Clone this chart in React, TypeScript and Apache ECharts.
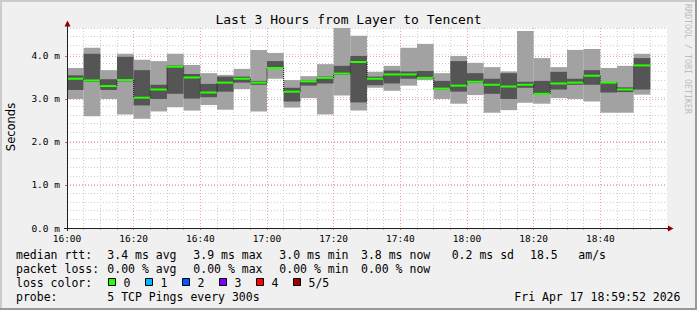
import React, { useEffect, useRef } from "react";
import * as echarts from "echarts";

// 5-minute bins (start times)
const binStarts = [
  "16:00", "16:05", "16:10", "16:15", "16:20", "16:25", "16:30", "16:35", "16:40", "16:45", "16:50", "16:55",
  "17:00", "17:05", "17:10", "17:15", "17:20", "17:25", "17:30", "17:35", "17:40", "17:45", "17:50", "17:55",
  "18:00", "18:05", "18:10", "18:15", "18:20", "18:25", "18:30", "18:35", "18:40", "18:45", "18:50",
];
// sorted pings per bin (ms)
const pingMax = [3.72, 4.19, 3.67, 4.05, 3.91, 3.88, 4.05, 3.79, 3.6, 3.56, 3.7, 4.14, 4.07, 3.44, 3.53, 3.81, 4.65, 4.47, 3.63, 3.77, 4.19, 4.28, 3.6, 4.0, 3.84, 3.74, 3.64, 4.58, 3.95, 3.74, 4.14, 4.16, 3.72, 3.77, 4.05];
const pingQ3 = [3.55, 4.05, 3.46, 3.98, 3.67, 3.33, 3.78, 3.58, 3.35, 3.52, 3.52, 3.42, 3.88, 3.26, 3.43, 3.52, 3.77, 4.0, 3.52, 3.66, 3.64, 3.65, 3.42, 3.88, 3.6, 3.47, 3.6, 3.4, 3.42, 3.63, 3.47, 3.67, 3.39, 3.27, 3.95];
const pingMedian = [3.47, 3.43, 3.3, 3.44, 3.03, 3.22, 3.75, 3.5, 3.15, 3.38, 3.47, 3.38, 3.72, 3.17, 3.41, 3.49, 3.59, 3.86, 3.47, 3.57, 3.57, 3.49, 3.24, 3.31, 3.4, 3.33, 3.29, 3.33, 3.12, 3.36, 3.38, 3.54, 3.38, 3.22, 3.78];
const pingQ1 = [3.21, 3.4, 3.21, 3.41, 2.85, 3.0, 3.12, 3.01, 3.04, 3.17, 3.38, 3.33, 3.7, 2.94, 3.31, 3.36, 3.56, 2.92, 3.32, 3.36, 3.47, 3.47, 3.22, 3.17, 3.37, 3.12, 3.0, 3.26, 3.11, 3.22, 3.33, 3.33, 3.15, 3.16, 3.22];
const pingMin = [3.0, 2.6, 3.0, 2.64, 2.54, 2.71, 2.81, 2.73, 2.86, 2.75, 3.23, 2.71, 3.47, 2.8, 3.02, 2.64, 3.08, 2.73, 3.26, 3.19, 3.31, 3.44, 3.0, 2.89, 3.09, 2.68, 2.74, 2.91, 2.89, 3.02, 3.0, 2.94, 2.68, 2.68, 3.1];

const titleText = "Last 3 Hours from Layer to Tencent";
const legendRows = [
  { y: 254.5, parts: [[16, "median rtt:"], [107.3, "3.4 ms avg"], [193.3, "3.9 ms max"], [279.3, "3.0 ms min"], [361, "3.8 ms now"], [451.7, "0.2 ms sd"], [530, "18.5"], [578.3, "am/s"]] },
  { y: 268.5, parts: [[16, "packet loss:"], [107.3, "0.00 % avg"], [193.3, "0.00 % max"], [279.3, "0.00 % min"], [361, "0.00 % now"]] },
  { y: 282.5, parts: [[16, "loss color:"]] },
  { y: 296.5, parts: [[16, "probe:"], [107.3, "5 TCP Pings every 300s"], [514.3, "Fri Apr 17 18:59:52 2026"]] },
];
const lossLabels = ["0", "1", "2", "3", "4", "5/5"];
const lossColors = ["#26ff00", "#00b8ff", "#0059ff", "#7e00ff", "#ff0000", "#a10000"];

const toMin = (s: string) => {
  const [h, m] = s.split(":").map(Number);
  return (h - 16) * 60 + m;
};
const fmtMin = (v: number) => {
  const h = 16 + Math.floor(v / 60);
  const m = v % 60;
  return `${h}:${m < 10 ? "0" + m : m}`;
};

const MONO = "DejaVu Sans Mono";

export default function App() {
  const ref = useRef<HTMLDivElement>(null);
  useEffect(() => {
    if (!ref.current) return;
    const chart = echarts.init(ref.current, undefined, { renderer: "svg" });
    const data = binStarts.map((s, i) => {
      const st = toMin(s);
      return [st, st + 5, pingMin[i], pingQ1[i], pingMedian[i], pingQ3[i], pingMax[i], i > 0 ? pingMedian[i - 1] : -1];
    });

    const graphics: any[] = [
      // frame shading
      { type: "rect", shape: { x: 0, y: 0, width: 697, height: 2 }, style: { fill: "#cbcbcb" }, z: 100 },
      { type: "rect", shape: { x: 0, y: 0, width: 2, height: 310 }, style: { fill: "#cbcbcb" }, z: 100 },
      { type: "rect", shape: { x: 0, y: 308, width: 697, height: 2 }, style: { fill: "#999999" }, z: 100 },
      { type: "rect", shape: { x: 695, y: 0, width: 2, height: 310 }, style: { fill: "#999999" }, z: 100 },
      // axes lines and arrows
      { type: "line", shape: { x1: 64, y1: 228.5, x2: 669, y2: 228.5 }, style: { stroke: "#1f1f1f", lineWidth: 1 }, z: 50 },
      { type: "line", shape: { x1: 67.5, y1: 231, x2: 67.5, y2: 25 }, style: { stroke: "#1f1f1f", lineWidth: 1 }, z: 50 },
      { type: "polygon", shape: { points: [[673.5, 228.5], [668, 225.5], [668, 231.5]] }, style: { fill: "#8b0000" }, z: 51 },
      { type: "polygon", shape: { points: [[67.5, 20.5], [64.5, 26.5], [70.5, 26.5]] }, style: { fill: "#8b0000" }, z: 51 },
      // title
      {
        type: "text", x: 348.5, y: 19.5, z: 60,
        style: { text: titleText, font: `13px ${MONO}`, fill: "#000", align: "center", verticalAlign: "middle" },
      },
      // y-axis name
      {
        type: "text", x: 10.5, y: 127, rotation: Math.PI / 2, z: 60,
        style: { text: "Seconds", font: "11.5px DejaVu Sans", fill: "#000", align: "center", verticalAlign: "middle" },
      },
      // watermark
      {
        type: "text", x: 687.5, y: 59, rotation: -Math.PI / 2, z: 60,
        style: { text: "RRDTOOL / TOBI OETIKER", font: `8.3px ${MONO}`, fill: "#bdbdbd", align: "center", verticalAlign: "middle" },
      },
    ];
    legendRows.forEach((row) => {
      row.parts.forEach(([x, t]) => {
        graphics.push({
          type: "text", x: x as number, y: row.y, z: 60,
          style: { text: t as string, font: `11.5px ${MONO}`, fill: "#000", align: "left", verticalAlign: "middle" },
        });
      });
    });
    lossLabels.forEach((lab, i) => {
      const bx = 108.5 + i * 37;
      graphics.push({
        type: "rect", shape: { x: bx, y: 278.5, width: 7, height: 7 }, z: 60,
        style: { fill: lossColors[i], stroke: "#000", lineWidth: 1 },
      });
      graphics.push({
        type: "text", x: bx + 15, y: 282.5, z: 60,
        style: { text: lab, font: `11.5px ${MONO}`, fill: "#000", align: "left", verticalAlign: "middle" },
      });
    });

    const option: any = {
      animation: false,
      backgroundColor: "#f0f0f0",
      grid: { left: 67, top: 28, width: 600, height: 200, show: true, backgroundColor: "#ffffff", borderWidth: 0 },
      xAxis: {
        type: "value", min: 0, max: 180, interval: 20, z: 1,
        axisLine: { show: false },
        axisTick: { show: true, length: 2, lineStyle: { color: "#e06060" } },
        minorTick: { show: true, splitNumber: 4, length: 2, lineStyle: { color: "#b0b0b0" } },
        splitLine: { show: true, showMinLine: false, showMaxLine: false, lineStyle: { color: "#f0a0a0", type: [1, 2], width: 1 } },
        minorSplitLine: { show: true, lineStyle: { color: "#cfcfcf", type: [1, 2], width: 1 } },
        axisLabel: {
          formatter: (v: number) => fmtMin(v), showMaxLabel: false, margin: 5,
          fontFamily: MONO, fontSize: 9.5, color: "#000",
        },
      },
      yAxis: [
        {
          type: "value", min: 0, max: 4.65, interval: 1, z: 1,
          axisLine: { show: false },
          axisTick: { show: true, length: 2, lineStyle: { color: "#e06060" } },
          splitLine: { show: true, showMinLine: false, showMaxLine: false, lineStyle: { color: "#f0a0a0", type: [1, 2], width: 1 } },
          axisLabel: {
            formatter: (v: number) => `${v.toFixed(1)} m`, showMaxLabel: false, margin: 7,
            fontFamily: MONO, fontSize: 9.5, color: "#000",
          },
        },
        {
          type: "value", min: 0, max: 4.6, interval: 0.2, position: "left", z: 0,
          axisLine: { show: false }, axisTick: { show: false }, axisLabel: { show: false },
          splitLine: { show: true, showMinLine: false, lineStyle: { color: "#cfcfcf", type: [1, 2], width: 1 } },
        },
      ],
      series: [
        {
          type: "custom",
          z: 5,
          data,
          renderItem: (params: any, api: any) => {
            const s = api.value(0), e = api.value(1);
            const mn = api.value(2), q1 = api.value(3), md = api.value(4), q3 = api.value(5), mx = api.value(6), pm = api.value(7);
            const [x0, yMax] = api.coord([s, mx]);
            const [x1, yMin] = api.coord([e, mn]);
            const yQ3 = api.coord([s, q3])[1];
            const yQ1 = api.coord([s, q1])[1];
            const yMd = api.coord([s, md])[1];
            const children: any[] = [
              { type: "rect", shape: { x: x0, y: yMax, width: x1 - x0, height: yMin - yMax }, style: { fill: "#a2a2a2" } },
              { type: "rect", shape: { x: x0, y: yQ3, width: x1 - x0, height: yQ1 - yQ3 }, style: { fill: "#555555" } },
            ];
            if (pm >= 0) {
              const yPm = api.coord([s, pm])[1];
              children.push({
                type: "line", shape: { x1: x0, y1: yPm, x2: x0, y2: yMd },
                style: { stroke: "#111", lineWidth: 1, lineDash: [1, 1] },
              });
            }
            children.push({ type: "rect", shape: { x: x0, y: yMd - 1, width: x1 - x0, height: 2 }, style: { fill: "#26ff00" } });
            return { type: "group", children };
          },
        },
      ],
      graphic: graphics,
    };
    chart.setOption(option);
    return () => chart.dispose();
  }, []);
  return <div ref={ref} style={{ position: "absolute", left: 0, top: 0, width: 697, height: 310 }} />;
}
